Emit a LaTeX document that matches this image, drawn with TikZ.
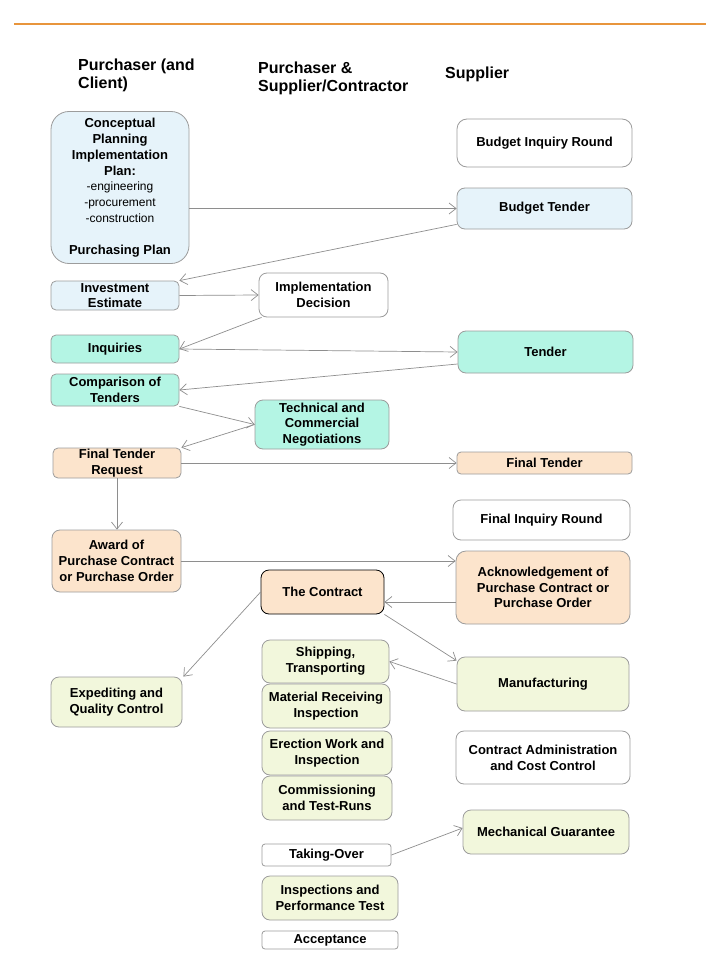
\documentclass[tikz,border=0pt]{standalone}
\usepackage{fontspec}
\setmainfont{Liberation Sans}
\usetikzlibrary{arrows.meta}
\definecolor{ruleorange}{HTML}{E8953C}
\definecolor{boxline}{HTML}{9C9C9C}
\definecolor{arrowgray}{HTML}{8E8E8E}
\definecolor{planblue}{HTML}{E6F3FA}
\definecolor{tendergreen}{HTML}{B4F5E4}
\definecolor{offerpeach}{HTML}{FCE4CC}
\definecolor{workolive}{HTML}{F2F7DC}
\begin{document}
\begin{tikzpicture}[x=1pt,y=-1pt,font=\bfseries\fontsize{13}{15.8}\selectfont,
  box/.style={draw=boxline,line width=0.8pt,rounded corners=8pt,align=center,inner sep=0pt},
  sz/.style 2 args={minimum width=#1pt,minimum height=#2pt},
  head/.style={anchor=north west,align=left,inner sep=0pt,font=\bfseries\fontsize{16}{18}\selectfont},
  arr/.style={draw=arrowgray,line width=0.7pt,-{Straight Barb[length=7pt,width=11pt]}}]
\useasboundingbox (0,0) rectangle (720,960);
\fill[white] (0,0) rectangle (720,960);
\draw[ruleorange,line width=1.6pt] (14,24) -- (706,24);

\node[head] (hpur) at (78,59) {Purchaser (and\\Client)};
\node[head] (hboth) at (258,62) {Purchaser \&\\Supplier/Contractor};
\node[head] (hsup) at (445,67) {Supplier};

\node[box,sz={138}{152},fill=planblue,rounded corners=18pt] (plan) at (120,187.5)
  {Conceptual\\Planning\\Implementation\\Plan:\\{\mdseries\fontsize{12}{15.8}\selectfont -engineering}\\{\mdseries\fontsize{12}{15.8}\selectfont -procurement}\\{\mdseries\fontsize{12}{15.8}\selectfont -construction}\\[15.8pt]Purchasing Plan};
\node[box,sz={175}{48},fill=white,rounded corners=10pt] (binq) at (544.5,143) {Budget Inquiry Round};
\node[box,sz={175}{41},fill=planblue] (btend) at (544.5,208.5) {Budget Tender};
\node[box,sz={128}{29},fill=planblue,rounded corners=5pt] (invest) at (115,295.5) {Investment\\Estimate};
\node[box,sz={129}{44},fill=white] (decide) at (323.5,295) {Implementation\\Decision};
\node[box,sz={128}{28},fill=tendergreen,rounded corners=5pt] (inq) at (115,349) {Inquiries};
\node[box,sz={175}{42},fill=tendergreen] (tend) at (545.5,352) {Tender};
\node[box,sz={128}{32},fill=tendergreen,rounded corners=5pt] (compare) at (115,390) {Comparison of\\Tenders};
\node[box,sz={134}{49},fill=tendergreen] (negot) at (322,424.5) {Technical and\\Commercial\\Negotiations};
\node[box,sz={128}{30},fill=offerpeach,rounded corners=5pt] (ftreq) at (117,463) {Final Tender\\Request};
\node[box,sz={175}{22},fill=offerpeach,rounded corners=4pt] (ftend) at (544.5,463) {Final Tender};
\node[box,sz={177}{40},fill=white] (finq) at (541.5,520) {Final Inquiry Round};
\node[box,sz={129}{62},fill=offerpeach] (award) at (116.5,561) {Award of\\Purchase Contract\\or Purchase Order};
\node[box,sz={174}{73},fill=offerpeach,rounded corners=10pt] (ack) at (543,587.5) {Acknowledgement of\\Purchase Contract or\\Purchase Order};
\node[box,sz={123}{44},fill=offerpeach,draw=black] (contract) at (322.5,592) {The Contract};
\node[box,sz={131}{50},fill=workolive] (expedite) at (116.5,702) {Expediting and\\Quality Control};
\node[box,sz={127}{43},fill=workolive] (ship) at (325.5,661.5) {Shipping,\\Transporting};
\node[box,sz={172}{54},fill=workolive] (manu) at (543,684) {Manufacturing};
\node[box,sz={128}{44},fill=workolive] (receive) at (326,706) {Material Receiving\\Inspection};
\node[box,sz={130}{44},fill=workolive] (erect) at (327,753) {Erection Work and\\Inspection};
\node[box,sz={174}{53},fill=white] (admin) at (543,757.5) {Contract Administration\\and Cost Control};
\node[box,sz={130}{44},fill=workolive] (commis) at (327,798) {Commissioning\\and Test-Runs};
\node[box,sz={166}{44},fill=workolive] (guar) at (546,832) {Mechanical Guarantee};
\node[box,sz={129}{22},fill=white,rounded corners=3pt] (takeover) at (326.5,855) {Taking-Over};
\node[box,sz={136}{44},fill=workolive] (perform) at (330,898) {Inspections and\\Performance Test};
\node[box,sz={136}{18},fill=white,rounded corners=3pt] (accept) at (330,940) {Acceptance};

\draw[arr] (btend.west -| plan.east) -- (btend.west);
\draw[arr] ([yshift=5pt]btend.south west) -- (invest.north east);
\draw[arr] (invest.east) -- (decide.west);
\draw[arr] ([xshift=3pt]decide.south west) -- (inq.east);
\draw[arr] (inq.east) -- (tend.west);
\draw[arr] ([yshift=-12pt]tend.west) -- (compare.east);
\draw[arr] (compare.south east) -- (negot.west);
\draw[arr] (negot.west) -- (ftreq.north east);
\draw[arr] (ftreq.east) -- (ftend.west);
\draw[arr] (ftreq.south) -- (ftreq.south |- award.north);
\draw[arr] (award.east) -- (award.east -| ack.west);
\draw[arr] ([yshift=-14.5pt]ack.west) -- ([yshift=-10pt]contract.east);
\draw[arr] (contract.west) -- ([xshift=1pt]expedite.north east);
\draw[arr] (contract.south east) -- ([yshift=-4pt]manu.north west);
\draw[arr] (manu.west) -- (ship.east);
\draw[arr] (takeover.east) -- ([yshift=4pt]guar.west);
\end{tikzpicture}
\end{document}
